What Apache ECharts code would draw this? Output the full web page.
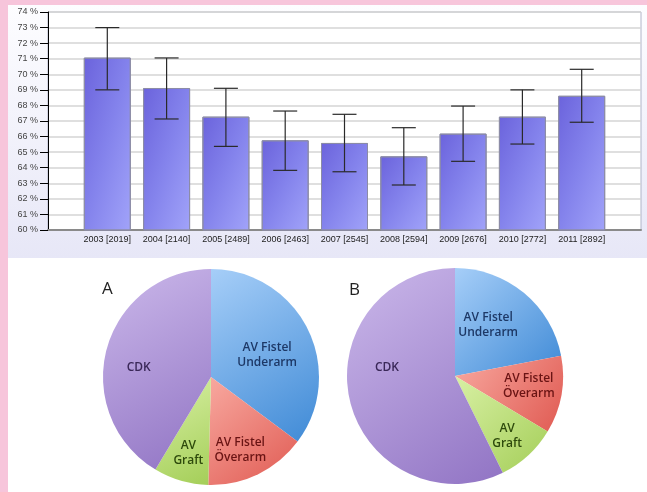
<!DOCTYPE html>
<html><head><meta charset="utf-8">
<script src="https://cdn.jsdelivr.net/npm/echarts@6/dist/echarts.min.js"></script>
<style>html,body{margin:0;padding:0;background:#f7c5db}#c{width:647px;height:492px}</style>
</head><body><div id="c"></div>
<script>
// ---- data ----
const years = ['2003 [2019]','2004 [2140]','2005 [2489]','2006 [2463]','2007 [2545]','2008 [2594]','2009 [2676]','2010 [2772]','2011 [2892]'];
const rates = [71.07, 69.12, 67.28, 65.76, 65.59, 64.73, 66.19, 67.28, 68.62];
const errLow = [69.0, 67.13, 65.37, 63.83, 63.74, 62.89, 64.41, 65.52, 66.92];
const errHigh = [73.0, 71.05, 69.1, 67.64, 67.43, 66.57, 67.96, 69.0, 70.32];
const yMin = 60, yMax = 74, yStep = 1;
const pieNames = ['AV Fistel\nUnderarm', 'AV Fistel\nÖverarm', 'AV\nGraft', 'CDK'];
const pieA = [35.2, 15.2, 8.2, 41.4];
const pieB = [22.0, 11.6, 9.1, 57.3];
const pieTitles = ['A', 'B'];

// ---- styles ----
const sliceColors = [['#a6cef8', '#3f8ad6'], ['#f8a9a0', '#e05a52'], ['#d8f0a4', '#a4ce58'], ['#cbb8ea', '#9174c4']];
const labelColors = ['#1d3866', '#6a1414', '#2e4a0c', '#3a2858'];
const labelOffsetsA = [[-10, 11], [-3, 7], [-2, 5], [-1, 10]];
const labelOffsetsB = [[-14, 6], [1, -3], [2, 6], [4, -25]];
const barW = 47;
const barStops = ['#6b63dc', '#8483ec', '#a1a3f9'];

const cats = [''].concat(years, ['']);
const errData = years.map((y, i) => [i + 1, errLow[i], errHigh[i]]);

function grad(c, x2, y2) {
  return new echarts.graphic.LinearGradient(0, 0, x2 === undefined ? 1 : x2, y2 === undefined ? 1 : y2,
    c.map((col, k) => ({offset: k / (c.length - 1), color: col})));
}
function pieSeries(vals, center, offsets) {
  return [{
    type: 'pie', center: center, radius: 108, startAngle: 90, clockwise: true,
    silent: true, label: {show: false}, labelLine: {show: false}, emphasis: {disabled: true},
    data: vals.map((v, i) => ({value: v, name: pieNames[i], itemStyle: {color: grad(sliceColors[i])}}))
  }, {
    type: 'pie', center: center, radius: [34, 108], startAngle: 90, clockwise: true,
    silent: true, labelLine: {show: false}, emphasis: {disabled: true},
    itemStyle: {color: 'rgba(0,0,0,0)'},
    label: {show: true, position: 'inside', formatter: '{b}', fontFamily: 'Open Sans', fontSize: 12, fontWeight: 600, lineHeight: 15},
    data: vals.map((v, i) => ({value: v, name: pieNames[i], label: {color: labelColors[i], offset: offsets[i]}}))
  }];
}

const chart = echarts.init(document.getElementById('c'), null, {renderer: 'canvas'});
const baseBar = {
  type: 'bar', id: 'bars', barWidth: barW, silent: true,
  data: ['-'].concat(rates, ['-']),
  itemStyle: {color: grad(barStops), borderColor: '#8c8ca6', borderWidth: 1}
};
chart.setOption({
  backgroundColor: '#f7c5db',
  animation: false,
  graphic: [
    {type: 'rect', z: -10, shape: {x: 8, y: 5, width: 639, height: 487}, style: {fill: '#ffffff'}},
    {type: 'rect', z: -9, shape: {x: 8, y: 5, width: 639, height: 253},
     style: {fill: new echarts.graphic.LinearGradient(0, 0, 0, 1, [{offset: 0, color: '#fdfdff'}, {offset: 1, color: '#e7e7f7'}])}}
  ],
  title: [
    {text: pieTitles[0], left: 97, top: 276, textStyle: {fontFamily: 'Open Sans', fontSize: 17, fontWeight: 'normal', color: '#222'}},
    {text: pieTitles[1], left: 344, top: 277, textStyle: {fontFamily: 'Open Sans', fontSize: 17, fontWeight: 'normal', color: '#222'}}
  ],
  grid: {left: 48, right: 6, top: 12, bottom: 262, show: true, backgroundColor: '#ffffff', borderColor: '#b0b4c8', borderWidth: 1},
  xAxis: {
    type: 'category', data: cats, boundaryGap: false,
    axisLine: {lineStyle: {color: '#8a8a8a', width: 2}},
    axisTick: {show: false},
    axisLabel: {interval: 0, margin: 5, fontSize: 9, color: '#222', fontFamily: 'Liberation Sans'},
    splitLine: {show: false}
  },
  yAxis: {
    type: 'value', min: yMin, max: yMax, interval: yStep,
    axisLine: {show: true, lineStyle: {color: '#000', width: 1}},
    axisTick: {show: true, length: 8, lineStyle: {color: '#000'}},
    axisLabel: {formatter: '{value} %', fontSize: 9, color: '#444', margin: 10, fontFamily: 'Liberation Sans'},
    splitLine: {show: true, lineStyle: {color: '#d4d4d4', width: 1.5}}
  },
  series: [baseBar, {
    type: 'custom', data: errData, silent: true, z: 5,
    encode: {x: 0, y: [1, 2]},
    renderItem: function (params, api) {
      const x = api.value(0);
      const lo = api.coord([x, api.value(1)]);
      const hi = api.coord([x, api.value(2)]);
      const w = 12;
      const st = {stroke: '#2a2a2a', lineWidth: 1.2};
      return {type: 'group', children: [
        {type: 'line', shape: {x1: lo[0], y1: lo[1], x2: hi[0], y2: hi[1]}, style: st},
        {type: 'line', shape: {x1: hi[0] - w, y1: hi[1], x2: hi[0] + w, y2: hi[1]}, style: st},
        {type: 'line', shape: {x1: lo[0] - w, y1: lo[1], x2: lo[0] + w, y2: lo[1]}, style: st}
      ]};
    }
  }].concat(pieSeries(pieA, [211, 377], labelOffsetsA), pieSeries(pieB, [455, 376], labelOffsetsB))
});

// per-bar diagonal gradient that blends horizontal and vertical shading equally
const basePx = chart.convertToPixel({xAxisIndex: 0, yAxisIndex: 0}, [1, yMin])[1];
const styledData = ['-'].concat(rates.map((v, i) => {
  const topPx = chart.convertToPixel({xAxisIndex: 0, yAxisIndex: 0}, [i + 1, v])[1];
  const h = Math.max(1, basePx - topPx), w = barW;
  const s = h * h + w * w;
  return {value: v, itemStyle: {color: grad(barStops, 2 * h * h / s, 2 * w * w / s)}};
}), ['-']);
chart.setOption({series: [{id: 'bars', data: styledData}]});
</script></body></html>
